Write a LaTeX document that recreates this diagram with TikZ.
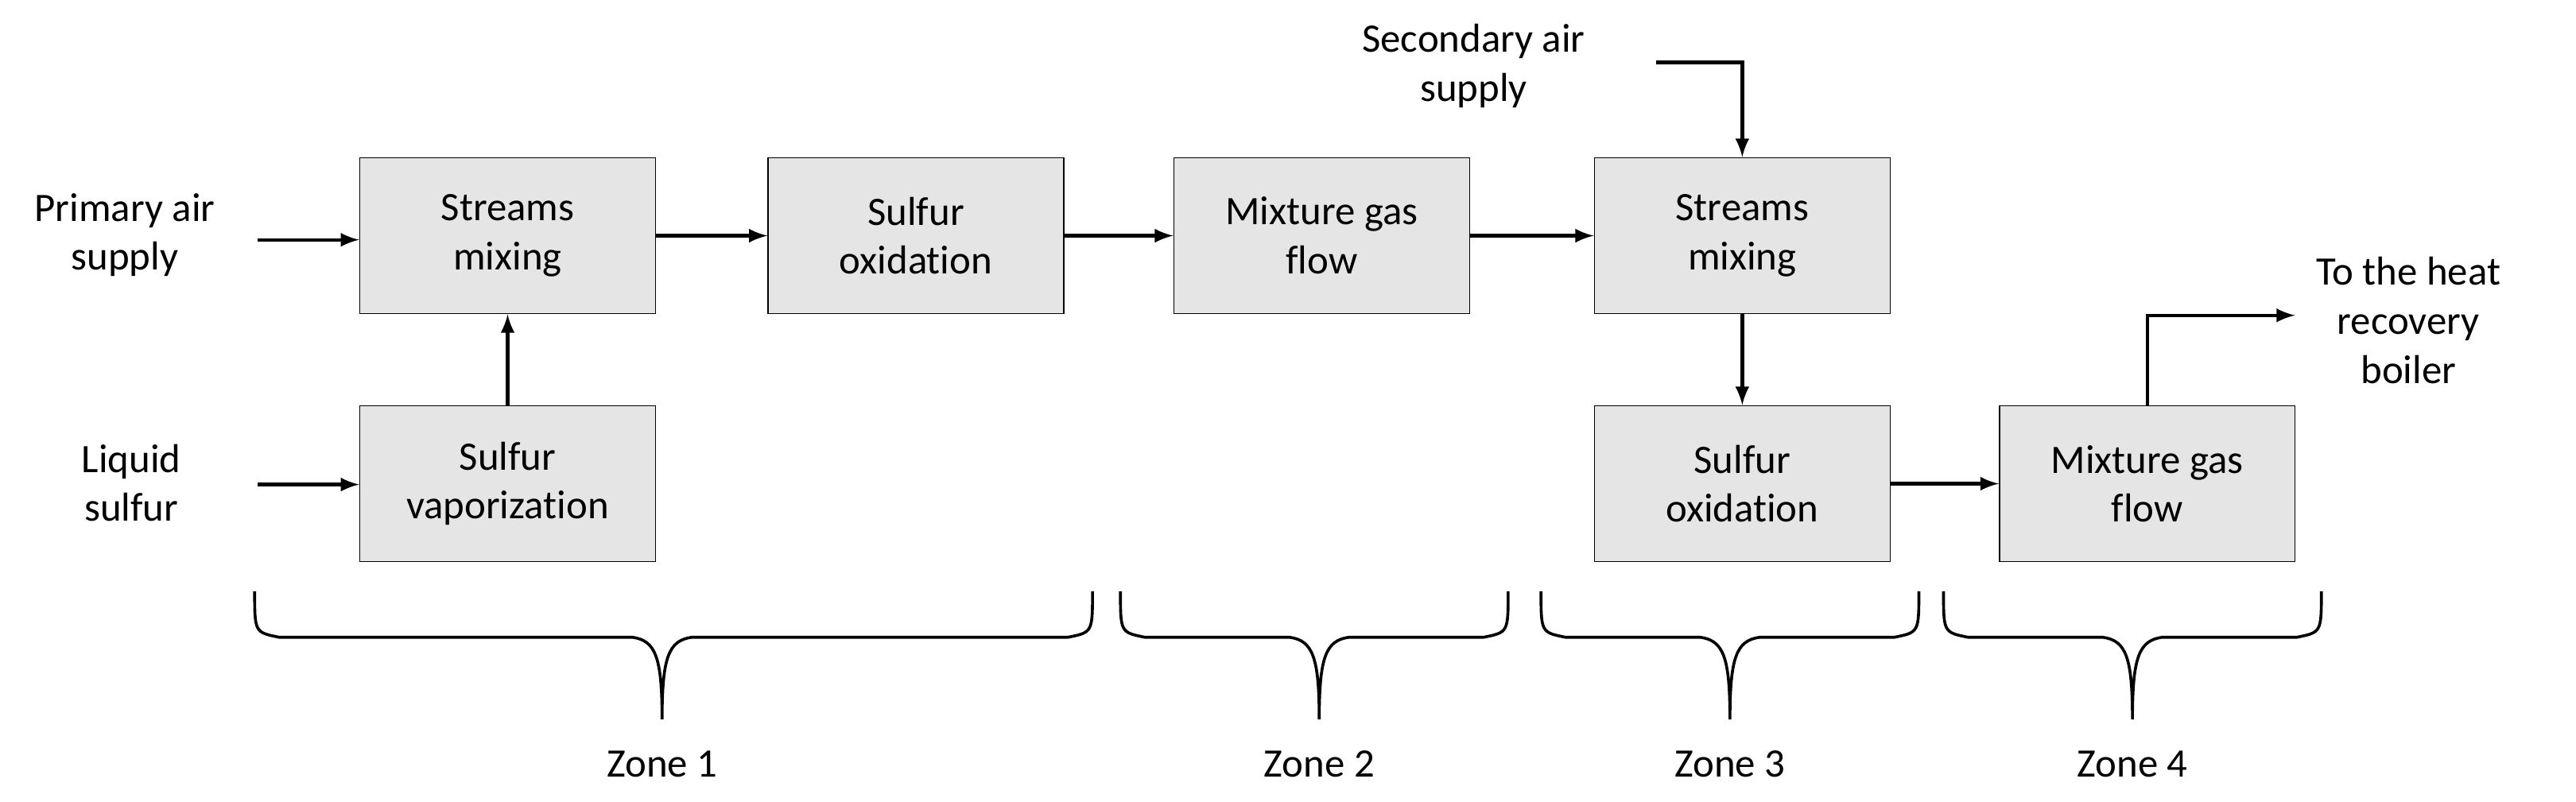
\documentclass[tikz,border=0pt]{standalone}
\usepackage{fontspec}
\setmainfont{Carlito}[RawFeature={-liga}]
\usetikzlibrary{positioning}
\newcommand{\zonebrace}[4]{% x1, x2, tip x, label
  \draw[line width=1pt] (#1,360) .. controls (#1,385) .. (#1+15,388) -- (#3-18,388)
    .. controls (#3-4,390) and (#3,400) .. (#3,438)
    .. controls (#3,400) and (#3+4,390) .. (#3+18,388) -- (#2-15,388)
    .. controls (#2,385) .. (#2,360);
  \node[lbl] (#4) at (#3,465) {Zone \ref*{#4}};}
\begin{document}
\begin{tikzpicture}[x=0.02cm,y=-0.02cm,
  blk/.style={draw,fill=gray!20,minimum width=3.6cm,minimum height=1.9cm,align=center,font=\fontsize{14}{17}\selectfont},
  lbl/.style={align=center,font=\fontsize{14}{17}\selectfont},
  arr/.style={-latex,line width=1.2pt}]
\useasboundingbox (0,0) rectangle (1568,488);
\node[blk] (mix1) at (309,143.5) {Streams\\mixing};
\node[blk] (ox1) at (557.5,143.5) {Sulfur\\oxidation};
\node[blk] (gas1) at (804.5,143.5) {Mixture gas\\flow};
\node[blk] (mix2) at (1060.5,143.5) {Streams\\mixing};
\node[blk] (vap) at (309,294.5) {Sulfur\\vaporization};
\node[blk] (ox2) at (1060.5,294.5) {Sulfur\\oxidation};
\node[blk] (gas2) at (1307,294.5) {Mixture gas\\flow};
\node[lbl] (air1) at (76,143) {Primary air\\supply};
\node[lbl] (liq) at (80,294) {Liquid\\sulfur};
\node[lbl] (air2) at (897,40) {Secondary air\\supply};
\node[lbl] (boil) at (1466,195) {To the heat\\recovery\\boiler};
\coordinate (a1) at (157,146);
\coordinate (l1) at (157,295);
\coordinate (s1) at (1008,38);
\coordinate (b1) at (1397,192);
% connectors
\draw[arr] (a1) -- (a1 -| mix1.west);
\draw[arr] (l1) -- (l1 -| vap.west);
\draw[arr] (vap) -- (mix1);
\draw[arr] (mix1) -- (ox1);
\draw[arr] (ox1) -- (gas1);
\draw[arr] (gas1) -- (mix2);
\draw[arr] (s1) -| (mix2.north);
\draw[arr] (mix2) -- (ox2);
\draw[arr] (ox2) -- (gas2);
\draw[arr] (gas2.north) |- (b1);
% zones
\draw[line width=1pt] (155,360) .. controls (155,385) .. (170,388) -- (385,388)
  .. controls (399,390) and (403,400) .. (403,438) .. controls (403,400) and (407,390) .. (421,388)
  -- (650,388) .. controls (665,385) .. (665,360);
\node[lbl] (z1) at (403,465) {Zone 1};
\draw[line width=1pt] (682,360) .. controls (682,385) .. (697,388) -- (785,388)
  .. controls (799,390) and (803,400) .. (803,438) .. controls (803,400) and (807,390) .. (821,388)
  -- (903,388) .. controls (918,385) .. (918,360);
\node[lbl] (z2) at (803,465) {Zone 2};
\draw[line width=1pt] (938,360) .. controls (938,385) .. (953,388) -- (1035,388)
  .. controls (1049,390) and (1053,400) .. (1053,438) .. controls (1053,400) and (1057,390) .. (1071,388)
  -- (1153,388) .. controls (1168,385) .. (1168,360);
\node[lbl] (z3) at (1053,465) {Zone 3};
\draw[line width=1pt] (1183,360) .. controls (1183,385) .. (1198,388) -- (1280,388)
  .. controls (1294,390) and (1298,400) .. (1298,438) .. controls (1298,400) and (1302,390) .. (1316,388)
  -- (1398,388) .. controls (1413,385) .. (1413,360);
\node[lbl] (z4) at (1298,465) {Zone 4};
\end{tikzpicture}
\end{document}
